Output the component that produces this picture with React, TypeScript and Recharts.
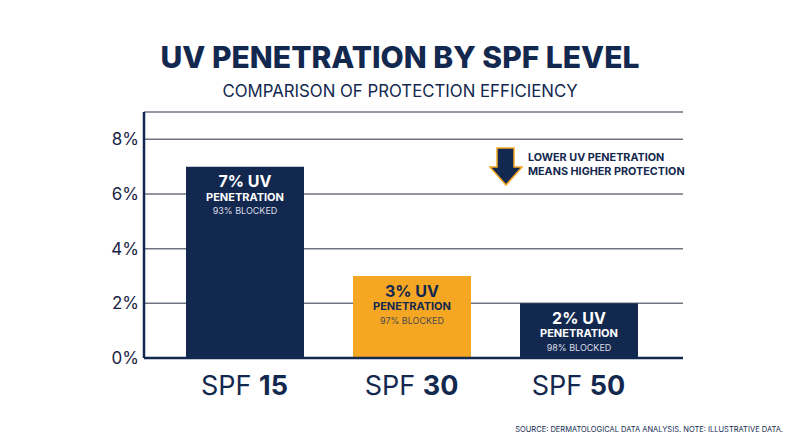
import React from 'react';
import { BarChart, Bar, XAxis, YAxis, CartesianGrid, Cell, LabelList } from 'recharts';

const categories = ['SPF 15', 'SPF 30', 'SPF 50'];
const penetration = [7, 3, 2];
const blocked = [93, 97, 98];
const yTicks = [0, 2, 4, 6, 8];

const TITLE = 'UV PENETRATION BY SPF LEVEL';
const SUBTITLE = 'COMPARISON OF PROTECTION EFFICIENCY';
const NOTE_LINES = ['LOWER UV PENETRATION', 'MEANS HIGHER PROTECTION'];
const SOURCE = 'SOURCE: DERMATOLOGICAL DATA ANALYSIS. NOTE: ILLUSTRATIVE DATA.';

const NAVY = '#13284f';
const ORANGE = '#f5a623';
const FONT = 'Inter, "Open Sans", sans-serif';
const barColors = [NAVY, ORANGE, NAVY];
const mainLabelColors = ['#ffffff', NAVY, '#ffffff'];
const subLabelColors = ['#d9dee8', '#4a4a4a', '#d9dee8'];

const data = categories.map((name, i) => ({
  name,
  value: penetration[i],
  blocked: blocked[i],
}));

const XTick = (props: any) => {
  const { x, y, payload } = props;
  const parts = String(payload.value).split(' ');
  return (
    <text x={x} y={y + 35} textAnchor="middle" fontSize={27} fill={NAVY} fontFamily={FONT}>
      <tspan>{parts[0]} </tspan>
      <tspan fontWeight={700}>{parts[1]}</tspan>
    </text>
  );
};

const BarLabel = (props: any) => {
  const { x, y, width, index, value } = props;
  const cx = x + width / 2;
  return (
    <g fontFamily={FONT} textAnchor="middle">
      <text x={cx} y={y + 20.5} fontSize={16} fontWeight={700} fill={mainLabelColors[index]}>
        {`${value}% UV`}
      </text>
      <text x={cx} y={y + 34} fontSize={11} fontWeight={700} fill={mainLabelColors[index]}>
        PENETRATION
      </text>
      <text x={cx} y={y + 47.5} fontSize={9} fill={subLabelColors[index]}>
        {`${blocked[index]}% BLOCKED`}
      </text>
    </g>
  );
};

export default function App() {
  return (
    <div style={{ position: 'fixed', left: 0, top: 0, width: 800, height: 447, background: '#ffffff' }}>
      <BarChart
        width={800}
        height={447}
        data={data}
        margin={{ top: 112, right: 117, bottom: 49, left: 0 }}
      >
        <CartesianGrid vertical={false} stroke="#6f7585" strokeWidth={1.5} />
        <XAxis
          dataKey="name"
          height={40}
          padding={{ left: 17, right: 21 }}
          axisLine={{ stroke: NAVY, strokeWidth: 2.5 }}
          tickLine={false}
          tickSize={0}
          tick={<XTick />}
          interval={0}
        />
        <YAxis
          width={144}
          domain={[0, 9]}
          ticks={yTicks}
          tickFormatter={(v: number) => `${v}%`}
          axisLine={{ stroke: NAVY, strokeWidth: 2.5 }}
          tickLine={false}
          tickSize={0}
          tickMargin={5}
          tick={{ fontSize: 17, fill: '#1b2444', fontFamily: FONT }}
        />
        <Bar dataKey="value" barSize={118} isAnimationActive={false}>
          {data.map((d, i) => (
            <Cell key={d.name} fill={barColors[i]} />
          ))}
          <LabelList dataKey="value" content={<BarLabel />} />
        </Bar>
      </BarChart>
      <svg
        width={800}
        height={447}
        style={{ position: 'absolute', left: 0, top: 0, pointerEvents: 'none' }}
        fontFamily={FONT}
      >
        <text x={400} y={68} textAnchor="middle" fontSize={30} fontWeight={800} fill={NAVY}>
          {TITLE}
        </text>
        <text x={400} y={97} textAnchor="middle" fontSize={16.8} fill={NAVY}>
          {SUBTITLE}
        </text>
        <path
          d="M497,148 L514,148 L514,167 L522,167 L506,185 L490,167 L497,167 Z"
          fill={NAVY}
          stroke={ORANGE}
          strokeWidth={1.5}
          strokeLinejoin="miter"
        />
        <text x={528} y={161} fontSize={10.8} fontWeight={700} fill={NAVY}>
          {NOTE_LINES[0]}
        </text>
        <text x={528} y={175} fontSize={10.8} fontWeight={700} fill={NAVY}>
          {NOTE_LINES[1]}
        </text>
        <text x={783} y={432} textAnchor="end" fontSize={7.5} fill={NAVY}>
          {SOURCE}
        </text>
      </svg>
    </div>
  );
}
